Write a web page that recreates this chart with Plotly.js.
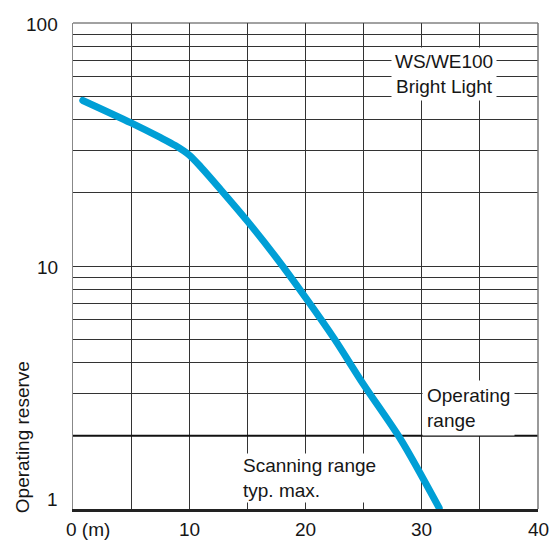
<!DOCTYPE html>
<html>
<head>
<meta charset="utf-8">
<script src="https://cdn.plot.ly/plotly-3.0.1.min.js"></script>
<style>
  html, body { margin: 0; padding: 0; background: #fff; }
  #chart { width: 550px; height: 540px; }
</style>
</head>
<body>
<div id="chart"></div>
<script>
// ---- data ----
const distance = [0.84, 5, 7.5, 8.8, 10, 10.95, 12.67, 15, 17.5, 20, 22.5, 25, 28.2, 31.5];
const reserve  = [48, 38.8, 33.8, 31.3, 28.6, 25.7, 20.7, 15.3, 10.8, 7.42, 5.0, 3.25, 1.93, 1.01];

const operatingLimit = 2;   // boundary line "Operating range"

const xGridVals = [0, 5, 10, 15, 20, 25, 30, 35, 40];
const yGridVals = [1, 2, 3, 4, 5, 6, 7, 8, 9, 10, 20, 30, 40, 50, 60, 70, 80, 90, 100];

const xTickVals = [0, 10, 20, 30, 40];
const xTickText = ['0 (m)', '10', '20', '30', '40'];
const yTickVals = [1, 10, 100];
const yTickText = ['1', '10', '100'];

const curveLabel = 'WS/WE100<br>Bright Light';
const operatingLabel = 'Operating<br>range';
const scanningLabel = 'Scanning range<br>typ. max.';
const yTitle = 'Operating reserve';

// ---- styles ----
const FONT = 'Liberation Sans, Arial, sans-serif';
const FS = 19;
const TXT = '#161616';

const traces = [
  {
    x: [xGridVals[0], xGridVals[xGridVals.length - 1]],
    y: [operatingLimit, operatingLimit],
    mode: 'lines',
    line: { color: '#111', width: 2 },
    hoverinfo: 'skip',
    showlegend: false
  },
  {
    x: distance,
    y: reserve,
    mode: 'lines',
    line: { color: '#009FD6', width: 7, shape: 'spline', smoothing: 0.8 },
    showlegend: false
  }
];

const annotations = [];
xTickVals.forEach((v, i) => {
  const first = i === 0;
  annotations.push({
    x: v, xref: 'x', y: -0.0426, yref: 'paper',
    text: xTickText[i], showarrow: false,
    xanchor: first ? 'left' : 'center', yanchor: 'middle',
    xshift: first ? -9 : 0,
    font: { family: FONT, size: FS, color: TXT }
  });
});
yTickVals.forEach((v, i) => {
  annotations.push({
    x: -0.027, xref: 'paper', y: Math.log10(v), yref: 'y',
    text: yTickText[i], showarrow: false,
    xanchor: 'right', yanchor: 'middle',
    yshift: i === 0 ? 10 : -1.5,
    font: { family: FONT, size: FS, color: TXT }
  });
});
annotations.push({
  x: -0.1097, xref: 'paper', y: 0.1477, yref: 'paper',
  text: yTitle, showarrow: false, textangle: -90,
  xanchor: 'center', yanchor: 'middle',
  font: { family: FONT, size: FS, color: TXT }
});
annotations.push({
  x: 0.798, xref: 'paper', y: 0.8957, yref: 'paper',
  text: curveLabel, showarrow: false, align: 'center',
  xanchor: 'center', yanchor: 'middle',
  bgcolor: '#fff', borderpad: 3,
  font: { family: FONT, size: FS, color: TXT }
});
annotations.push({
  x: 0.850, xref: 'paper', y: 0.2084, yref: 'paper',
  text: operatingLabel, showarrow: false, align: 'left',
  xanchor: 'center', yanchor: 'middle',
  bgcolor: '#fff', borderpad: 4,
  font: { family: FONT, size: FS, color: TXT }
});
annotations.push({
  x: 0.508, xref: 'paper', y: 0.0634, yref: 'paper',
  text: scanningLabel, showarrow: false, align: 'left',
  xanchor: 'center', yanchor: 'middle',
  bgcolor: '#fff', borderpad: 1,
  font: { family: FONT, size: FS, color: TXT }
});

const layout = {
  width: 550, height: 540,
  margin: { l: 73, r: 12, t: 23, b: 31, pad: 0 },
  paper_bgcolor: '#fff', plot_bgcolor: '#fff',
  font: { family: FONT, size: FS, color: TXT },
  showlegend: false,
  xaxis: {
    range: [0, 40],
    tickmode: 'array', tickvals: xGridVals,
    showticklabels: false, ticks: '',
    showgrid: true, gridcolor: '#333', gridwidth: 1,
    zeroline: false,
    showline: true, linecolor: '#222', linewidth: 2.5, mirror: false
  },
  yaxis: {
    type: 'log', range: [0, 2],
    tickmode: 'array', tickvals: yGridVals,
    showticklabels: false, ticks: '',
    showgrid: true, gridcolor: '#333', gridwidth: 1,
    zeroline: false,
    showline: true, linecolor: '#888', linewidth: 1.5, mirror: false
  },
  shapes: [
    { type: 'line', xref: 'paper', yref: 'paper', x0: 0, x1: 1, y0: 1, y1: 1,
      line: { color: '#444', width: 1 } },
    { type: 'line', xref: 'paper', yref: 'paper', x0: 1, x1: 1, y0: 0, y1: 1,
      line: { color: '#777', width: 1.5 } }
  ],
  annotations: annotations
};

Plotly.newPlot('chart', traces, layout, { displayModeBar: false, staticPlot: true }).then(gd => {
  gd.querySelectorAll('.scatterlayer .trace:last-child path.js-line').forEach(p => {
    p.style.strokeLinecap = 'round';
  });
});
</script>
</body>
</html>
